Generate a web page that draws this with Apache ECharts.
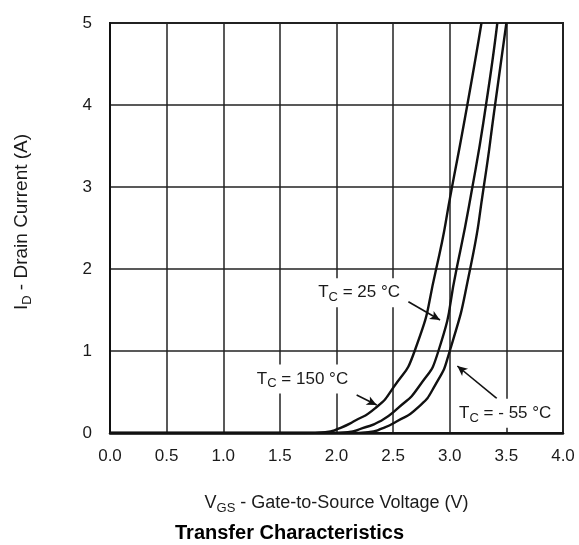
<!DOCTYPE html>
<html>
<head>
<meta charset="utf-8">
<script src="https://cdn.jsdelivr.net/npm/echarts@6/dist/echarts.min.js"></script>
<style>
  html, body { margin: 0; padding: 0; background: #fff; }
  #chart { width: 579px; height: 545px; }
</style>
</head>
<body>
<div id="chart"></div>
<script>
// Transfer characteristics: drain current vs gate-to-source voltage at three case temperatures.
// Each curve is a list of [VGS (V), ID (A)] points.
const curve150 = [
  [0.0, 0], [1.0, 0], [1.7, 0.0], [1.9, 0.01], [2.03, 0.06], [2.15, 0.14],
  [2.34, 0.30], [2.50, 0.55], [2.69, 1.0], [2.88, 2.0], [3.02, 3.0],
  [3.155, 4.0], [3.28, 5.0]
];
const curve25 = [
  [0.0, 0], [1.2, 0], [1.9, 0.0], [2.1, 0.01], [2.23, 0.06], [2.38, 0.14],
  [2.54, 0.30], [2.73, 0.57], [2.90, 1.0], [3.06, 2.0], [3.20, 3.0],
  [3.32, 4.0], [3.42, 5.0]
];
const curveM55 = [
  [0.0, 0], [1.4, 0], [2.1, 0.0], [2.28, 0.01], [2.41, 0.06], [2.53, 0.14],
  [2.71, 0.30], [2.87, 0.58], [3.00, 1.0], [3.18, 2.0], [3.30, 3.0],
  [3.40, 4.0], [3.50, 5.0]
];

// Axis ranges and ticks
const xTicks = { min: 0, max: 4, step: 0.5 };
const yTicks = { min: 0, max: 5, step: 1 };

// Curve annotations: label anchor and arrow (from -> to), in data units
const labelText = ['150', '25', '- 55'];
const labelAt = [[1.70, 0.66], [2.20, 1.71], [3.49, 0.24]];
const arrowFrom = [[2.178, 0.463], [2.635, 1.60], [3.415, 0.423]];
const arrowTo = [[2.355, 0.341], [2.914, 1.378], [3.067, 0.817]];

const FONT = 'Liberation Sans, Arial, sans-serif';
const INK = '#1a1a1a';

const chart = echarts.init(document.getElementById('chart'), null, { renderer: 'canvas' });

const lineStyle = { color: '#111', width: 2.4 };
function curveSeries(name, data) {
  return {
    name, type: 'line', data, smooth: 0.6,
    showSymbol: false, symbol: 'none', lineStyle, clip: true, z: 5, silent: true
  };
}

const arrowLines = arrowFrom.map((f, i) => [{ coord: f }, { coord: arrowTo[i] }]);

const subRich = (size, sub) => ({
  m: { fontSize: size, fontFamily: FONT, color: INK, fill: INK, lineHeight: size + 6, verticalAlign: 'middle' },
  s: { fontSize: sub, fontFamily: FONT, color: INK, fill: INK, lineHeight: sub, verticalAlign: 'bottom' }
});

chart.setOption({
  animation: false,
  backgroundColor: '#fff',
  grid: { left: 110, right: 16, top: 23, bottom: 112, show: true, borderColor: '#222', borderWidth: 2 },
  xAxis: {
    type: 'value', min: xTicks.min, max: xTicks.max, interval: xTicks.step,
    axisLine: { show: true, onZero: false, lineStyle: { color: '#111', width: 2.5 } },
    axisTick: { show: false },
    splitLine: { show: true, lineStyle: { color: '#222', width: 1.5 } },
    axisLabel: { color: INK, fontFamily: FONT, fontSize: 17, margin: 15, formatter: v => v.toFixed(1) },
    name: '{m|V}{s|GS}{m| - Gate-to-Source Voltage (V)}',
    nameLocation: 'middle', nameGap: 58,
    nameTextStyle: { fontFamily: FONT, color: INK, rich: subRich(18, 13) }
  },
  yAxis: {
    type: 'value', min: yTicks.min, max: yTicks.max, interval: yTicks.step,
    axisLine: { show: true, lineStyle: { color: '#111', width: 2 } },
    axisTick: { show: false },
    splitLine: { show: true, lineStyle: { color: '#222', width: 1.5 } },
    axisLabel: { color: INK, fontFamily: FONT, fontSize: 17, margin: 18 },
    name: '{m|I}{s|D}{m| - Drain Current (A)}',
    nameLocation: 'middle', nameGap: 76, nameRotate: 90,
    nameTextStyle: { fontFamily: FONT, color: INK, padding: [0, 0, 0, 12], rich: subRich(19, 13) }
  },
  title: {
    text: 'Transfer Characteristics', left: 'center', top: 523,
    textStyle: { fontFamily: FONT, fontWeight: 'bold', fontSize: 20, color: '#000' },
    padding: 0
  },
  series: [
    curveSeries('TC = 150 °C', curve150),
    Object.assign(curveSeries('TC = 25 °C', curve25), {
      markLine: {
        silent: true, symbol: ['none', 'arrow'], symbolSize: [7, 10],
        lineStyle: { color: '#111', width: 1.6, type: 'solid' },
        label: { show: false }, data: arrowLines, z: 6
      }
    }),
    curveSeries('TC = -55 °C', curveM55)
  ]
});

// Temperature labels on white boxes, positioned from data coordinates
const texts = labelText.map((t, i) => {
  const p = chart.convertToPixel({ gridIndex: 0 }, labelAt[i]);
  return {
    type: 'text', x: p[0], y: p[1], z: 50, silent: true,
    style: {
      text: '{m|T}{s|C}{m| = ' + t + ' °C}',
      align: 'center', verticalAlign: 'middle',
      backgroundColor: '#fff', padding: [3, 4, 3, 4],
      rich: subRich(17, 13)
    }
  };
});
chart.setOption({ graphic: texts });
</script>
</body>
</html>
